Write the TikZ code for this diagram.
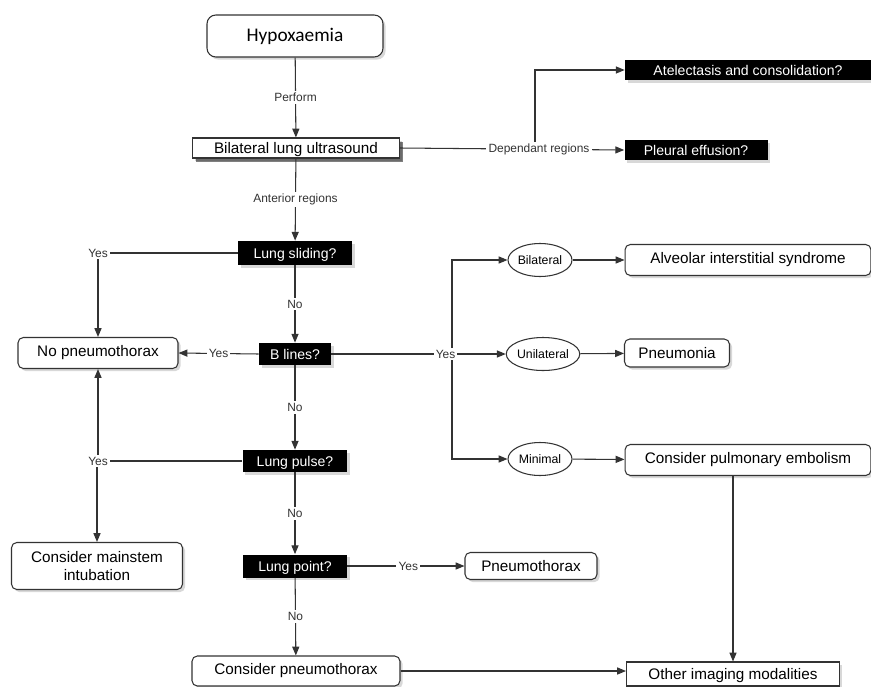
\documentclass[tikz,border=0pt]{standalone}
\usepackage{fontspec}
\setmainfont{Liberation Sans}
\newfontfamily\headfont{Carlito}
\usepackage{tikz}
\usetikzlibrary{arrows.meta,shapes.geometric,shadows}
\definecolor{ink}{HTML}{333333}
\tikzset{
  base/.style={draw=ink, line width=0.6pt},
  link/.style={base, -{Triangle[length=5pt,width=4pt]}},
  shade/.style={drop shadow={shadow xshift=1.5pt, shadow yshift=-1.5pt, fill=black!30}},
  rbox/.style={draw=ink, line width=0.6pt, rounded corners=3pt, fill=white, inner sep=0pt,
    align=center, font=\fontsize{8.7}{10.5}\selectfont, shade},
  sbox/.style={draw=ink, line width=0.6pt, fill=white, inner sep=0pt,
    text height=1.6ex, text depth=0.4ex, font=\fontsize{8.7}{10.5}\selectfont, shade},
  qbox/.style={fill=black, text=white, inner sep=0pt, text height=1.6ex, text depth=0.4ex,
    font=\fontsize{8}{9.6}\selectfont, shade},
  oval/.style={ellipse, draw=ink, line width=0.6pt, fill=white, inner sep=0pt,
    minimum width=1.28cm, minimum height=0.66cm, font=\fontsize{7}{8}\selectfont},
  lab/.style={fill=white, inner sep=1.2pt, font=\fontsize{6.8}{8}\selectfont, text=ink},
}

\begin{document}
\begin{tikzpicture}[x=0.02cm, y=-0.02cm]
  \useasboundingbox (0,0) rectangle (871,686);
  % main column
  \node[rbox, rounded corners=5pt, font=\headfont\fontsize{11}{13}\selectfont, text=black,
    minimum width=3.52cm, minimum height=0.84cm] (hypo) at (295,36) {Hypoxaemia};
  \node[sbox, minimum width=4.14cm, minimum height=0.40cm,
    drop shadow={shadow xshift=2pt, shadow yshift=-2pt, fill=black}] (lus) at (296,148) {Bilateral lung ultrasound};
  \node[qbox, minimum width=2.28cm, minimum height=0.48cm] (slide) at (295,253) {Lung sliding?};
  \node[qbox, minimum width=1.44cm, minimum height=0.44cm] (blines) at (295,354) {B lines?};
  \node[qbox, minimum width=2.10cm, minimum height=0.44cm] (pulse) at (295,461) {Lung pulse?};
  \node[qbox, minimum width=2.08cm, minimum height=0.46cm] (point) at (295,566) {Lung point?};
  \node[rbox, minimum width=4.16cm, minimum height=0.60cm] (conspt) at (296,671) {Consider pneumothorax};
  % left column
  \node[rbox, minimum width=3.20cm, minimum height=0.62cm] (nopt) at (98,353) {No pneumothorax};
  \node[rbox, minimum width=3.42cm, minimum height=0.94cm] (intub) at (97,566) {Consider mainstem\\intubation};
  % dependant regions
  \node[qbox, minimum width=4.92cm, minimum height=0.40cm] (atel) at (748,70) {Atelectasis and consolidation?};
  \node[qbox, minimum width=2.86cm, minimum height=0.40cm] (pleur) at (696,150) {Pleural effusion?};
  % B lines branch
  \node[oval] (bilat) at (540,260) {Bilateral};
  \node[oval, minimum width=1.40cm] (unilat) at (543,354) {Unilateral};
  \node[oval] (minim) at (540,459) {Minimal};
  \node[rbox, minimum width=4.92cm, minimum height=0.62cm] (ais) at (748,260) {Alveolar interstitial syndrome};
  \node[rbox, minimum width=2.10cm, minimum height=0.56cm] (pneum) at (677,353) {Pneumonia};
  \node[rbox, minimum width=4.92cm, minimum height=0.62cm] (pe) at (748,460) {Consider pulmonary embolism};
  \node[rbox, minimum width=2.64cm, minimum height=0.54cm] (ptx) at (531,566) {Pneumothorax};
  \node[sbox, minimum width=4.26cm, minimum height=0.48cm] (other) at (733,674) {Other imaging modalities};
  \coordinate (fork) at (452,354);
  \coordinate (split) at (535,150);

  % connectors
  \draw[link] (hypo) -- node[lab]{Perform} (lus);
  \draw[link] (split) |- (atel.west);
  \draw[link] (lus.east) -- node[lab, pos=0.62]{Dependant regions} (pleur.west);
  \draw[link] (lus) -- node[lab]{Anterior regions} (slide);
  \draw[link] (slide) -- node[lab]{No} (blines);
  \draw[link] (blines) -- node[lab]{No} (pulse);
  \draw[link] (pulse) -- node[lab]{No} (point);
  \draw[link] (point) -- node[lab]{No} (conspt);
  \draw[link] (slide.west) -| node[lab]{Yes} (nopt.north);
  \draw[link] (blines.west) -- node[lab]{Yes} (nopt.east);
  \draw[link] (pulse.west) -| (intub.north);
  \draw[link] (pulse.west) -| node[lab]{Yes} (nopt.south);
  \draw[link] (fork) |- (bilat.west);
  \draw[link] (fork) |- (minim.west);
  \draw[link] (blines.east) -- node[lab, pos=0.655]{Yes} (unilat.west);
  \draw[link] (bilat) -- (ais);
  \draw[link] (unilat) -- (pneum);
  \draw[link] (minim) -- (pe);
  \draw[link] (point) -- node[lab, pos=0.52]{Yes} (ptx);
  \draw[link] (pe.south -| other.north) -- (other.north);
  \draw[link] (conspt.east) -- (conspt.east -| other.west);
\end{tikzpicture}
\end{document}
